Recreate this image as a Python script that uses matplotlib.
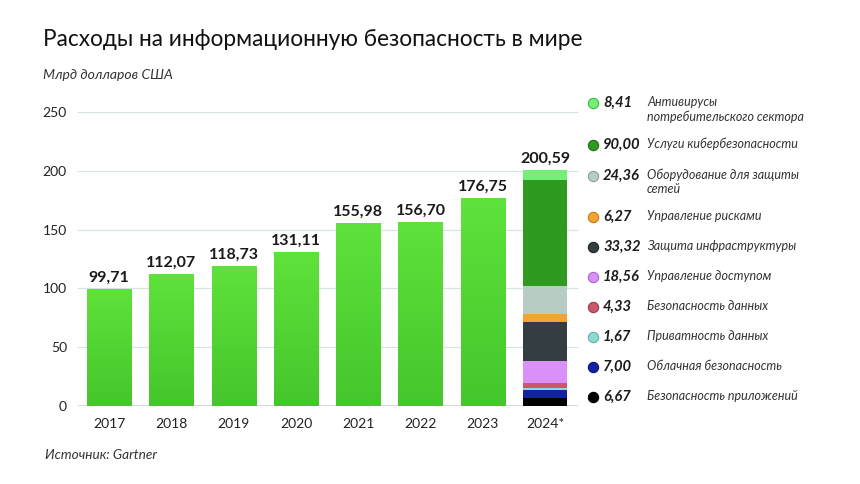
import numpy as np
import matplotlib
matplotlib.use("Agg")
import matplotlib.pyplot as plt
from matplotlib.colors import LinearSegmentedColormap

plt.rcParams['font.family'] = ['Lato', 'DejaVu Sans']

# data
years = ["2017", "2018", "2019", "2020", "2021", "2022", "2023", "2024*"]
totals = [99.71, 112.07, 118.73, 131.11, 155.98, 156.70, 176.75, 200.59]

# 2024 breakdown, bottom to top
seg_names = ["Безопасность приложений", "Облачная безопасность", "Приватность данных",
             "Безопасность данных", "Управление доступом", "Защита инфраструктуры",
             "Управление рисками", "Оборудование для защиты\nсетей",
             "Услуги кибербезопасности", "Антивирусы\nпотребительского сектора"]
seg_values = [6.67, 7.00, 1.67, 4.33, 18.56, 33.32, 6.27, 24.36, 90.00, 8.41]
seg_colors = ["#000000", "#1321a3", "#8fd9d3", "#c9586c", "#d991f7", "#333d42",
              "#f4a236", "#b7cdc4", "#2f9a20", "#74f078"]
seg_edges = ["#000000", "#0c1670", "#5fb0aa", "#9a3a4c", "#a868c8", "#1e2528",
             "#c47a1a", "#8aa398", "#1f6e14", "#3fb446"]

def fmt(v):
    return f"{v:.2f}".replace(".", ",")

fig = plt.figure(figsize=(8.6, 4.84), dpi=100)
ax = fig.add_axes([78 / 860, 1 - 406 / 484, 500 / 860, 294 / 484])

x = np.arange(len(years))
w = 0.71
green_cm = LinearSegmentedColormap.from_list("g", ["#45c62c", "#5fe23b"])

for i in range(len(years) - 1):
    b = ax.bar(x[i], totals[i], w, color="#52d434", zorder=2)[0]
    grad = np.linspace(0, 1, 100).reshape(-1, 1)
    im = ax.imshow(grad, cmap=green_cm, origin="lower", aspect="auto",
                   extent=[x[i] - w / 2, x[i] + w / 2, 0, totals[i]], zorder=3)
    im.set_clip_path(b)

bottom = 0
for v, c in zip(seg_values, seg_colors):
    ax.bar(x[-1], v, w, bottom=bottom, color=c, zorder=3)
    bottom += v

for i, t in enumerate(totals):
    ax.annotate(fmt(t), (x[i], t), xytext=(0, 3), textcoords="offset points",
                ha="center", va="bottom", fontsize=11.5, fontweight="bold",
                color="#1a1a1a")

ax.set_xlim(-0.5, 7.53)
ax.set_ylim(0, 250)
ax.set_yticks([0, 50, 100, 150, 200, 250])
ax.set_xticks(x)
ax.set_xticklabels(years)
ax.grid(axis="y", color="#d8e3e3", linewidth=0.9, zorder=0)
ax.set_axisbelow(True)
for s in ax.spines.values():
    s.set_visible(False)
ax.axhline(0, color="#cfd6d6", linewidth=1.2, zorder=1)
ax.tick_params(length=0, labelsize=10, colors="#222222")
ax.tick_params(axis="y", pad=8)
ax.tick_params(axis="x", pad=9)

# legend overlay in pixel coords
lax = fig.add_axes([0, 0, 1, 1])
lax.set_xlim(0, 860)
lax.set_ylim(484, 0)
lax.axis("off")
rows_y = [103, 145, 176, 217, 247, 277, 307, 337, 367, 397]
for k, yy in enumerate(rows_y):
    j = len(seg_values) - 1 - k
    lax.scatter([593], [yy], s=55, color=seg_colors[j], edgecolors=seg_edges[j],
                linewidths=0.8, zorder=3)
    lax.text(603, yy, fmt(seg_values[j]), fontsize=10.6, fontweight="bold",
             style="italic", va="center", ha="left", color="#1a1a1a")
    lax.text(647, yy - 7.5, seg_names[j], fontsize=9.0, style="italic",
             va="top", ha="left", color="#333333", linespacing=1.25)

fig.text(43 / 860, 1 - 40 / 484, "Расходы на информационную безопасность в мире",
         fontsize=16.3, va="center", ha="left", color="#111111")
fig.text(43 / 860, 1 - 75 / 484, "Млрд долларов США", fontsize=10, style="italic",
         va="center", ha="left", color="#333333")
fig.text(45 / 860, 1 - 455 / 484, "Источник: Gartner", fontsize=9.8, style="italic",
         va="center", ha="left", color="#333333")

fig.savefig("out.png", dpi=100, facecolor="white")
